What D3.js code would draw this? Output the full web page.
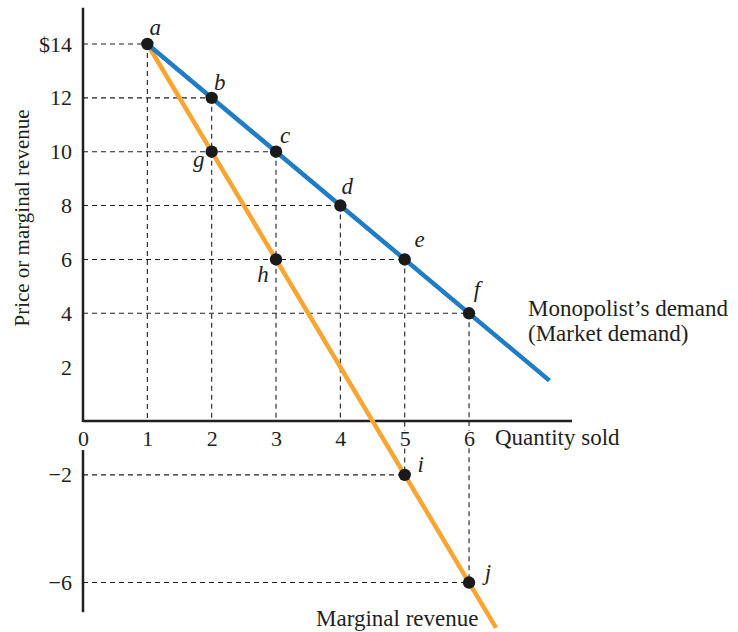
<!DOCTYPE html>
<html>
<head>
<meta charset="utf-8">
<script src="https://cdn.jsdelivr.net/npm/d3@7"></script>
<style>
body{margin:0;background:#fff;}
svg{display:block;font-family:"Liberation Serif","Times New Roman",serif;}
</style>
</head>
<body>
<svg id="chart" width="738" height="632"></svg>
<script>
// ---- data ----
const demandQ = [1, 2, 3, 4, 5, 6];
const demandP = [14, 12, 10, 8, 6, 4];
const demandLabels = ["a", "b", "c", "d", "e", "f"];
const mrQ = [2, 3, 5, 6];
const mrV = [10, 6, -2, -6];
const mrLabels = ["g", "h", "i", "j"];
const demandEnds = [[1, 14], [7.25, 1.5]];
const mrEnds = [[1, 14], [6.42, -7.68]];
const xTicks = [0, 1, 2, 3, 4, 5, 6];
const yTicksPos = [14, 12, 10, 8, 6, 4, 2];
const yTicksNeg = [-2, -6];

const svg = d3.select("#chart");
const x = d3.scaleLinear().domain([0, 7.6]).range([83, 572]);
const y = d3.scaleLinear().domain([0, 14]).range([421, 44]);
const ink = "#231f20";
const blue = "#1f7cc6";
const orange = "#f8a531";
const FS = 22;

// dashed guides
const guides = svg.append("g").attr("stroke", ink).attr("stroke-width", 1.1)
  .attr("stroke-dasharray", "5,4");
demandQ.forEach((q, i) => {
  guides.append("line").attr("x1", x(0)).attr("x2", x(q))
    .attr("y1", y(demandP[i])).attr("y2", y(demandP[i]));
});
mrQ.forEach((q, i) => {
  if (mrV[i] < 0) guides.append("line").attr("x1", x(0)).attr("x2", x(q))
    .attr("y1", y(mrV[i])).attr("y2", y(mrV[i]));
});
demandQ.forEach((q, i) => {
  const j = mrQ.indexOf(q);
  const bottom = (j >= 0 && mrV[j] < 0) ? mrV[j] : 0;
  guides.append("line").attr("x1", x(q)).attr("x2", x(q))
    .attr("y1", y(demandP[i])).attr("y2", y(bottom));
});

// axes lines
const axes = svg.append("g").attr("stroke", ink).attr("stroke-width", 2.5);
axes.append("line").attr("x1", x(0)).attr("x2", x(0)).attr("y1", y(15.35)).attr("y2", y(0) + 1);
axes.append("line").attr("x1", x(0)).attr("x2", x(7.6)).attr("y1", y(0)).attr("y2", y(0));
axes.append("line").attr("x1", x(0)).attr("x2", x(0)).attr("y1", y(-1.08)).attr("y2", y(-7.1));

// tick labels via d3 axes
const fmtY = d => d === 14 ? "$14" : (d < 0 ? "\u2212" + Math.abs(d) : String(d));
const yAxis = svg.append("g").attr("transform", `translate(${x(0) - 8},0)`)
  .call(d3.axisLeft(y).tickValues(yTicksPos.concat(yTicksNeg)).tickSize(0).tickFormat(fmtY));
yAxis.select(".domain").remove();
yAxis.selectAll("text").attr("font-size", FS).attr("fill", ink)
  .attr("font-family", "Liberation Serif, serif");

const xAxis = svg.append("g").attr("transform", `translate(0,${y(0) + 9})`)
  .call(d3.axisBottom(x).tickValues(xTicks).tickSize(0).tickFormat(d3.format("d")));
xAxis.select(".domain").remove();
xAxis.selectAll(".tick").filter(d => d === 0 || d === 5 || d === 6).insert("rect", "text")
  .attr("x", -6).attr("y", 1).attr("width", 12).attr("height", 16).attr("fill", "#fff");
xAxis.selectAll("text").attr("font-size", FS).attr("fill", ink)
  .attr("font-family", "Liberation Serif, serif")
  .attr("y", 0).attr("dy", "0.72em");

// lines
const line = d3.line().x(d => x(d[0])).y(d => y(d[1]));
svg.append("path").datum(mrEnds).attr("d", line).attr("stroke", orange)
  .attr("stroke-width", 4.5).attr("fill", "none");
svg.append("path").datum(demandEnds).attr("d", line).attr("stroke", blue)
  .attr("stroke-width", 4.5).attr("fill", "none");

// points
const dPts = demandQ.map((q, i) => ({ q, v: demandP[i], l: demandLabels[i] }));
const mPts = mrQ.map((q, i) => ({ q, v: mrV[i], l: mrLabels[i] }));
svg.append("g").selectAll("circle").data(dPts.concat(mPts)).join("circle")
  .attr("cx", d => x(d.q)).attr("cy", d => y(d.v)).attr("r", 6.2).attr("fill", "#1a1a1a");

// point labels
const dOff = { a: [8, -9], b: [8, -8], c: [9, -9], d: [7, -12], e: [15, -12], f: [8, -16] };
const mOff = { g: [-13, 15], h: [-13, 23], i: [16, -3], j: [19, -3] };
const lab = svg.append("g").attr("font-style", "italic").attr("font-size", 23).attr("fill", ink)
  .attr("text-anchor", "middle");
dPts.forEach(d => lab.append("text").attr("x", x(d.q) + dOff[d.l][0]).attr("y", y(d.v) + dOff[d.l][1]).text(d.l));
mPts.forEach(d => lab.append("text").attr("x", x(d.q) + mOff[d.l][0]).attr("y", y(d.v) + mOff[d.l][1]).text(d.l));

// titles
const t = svg.append("g").attr("font-size", 23).attr("fill", ink);
t.append("text").attr("x", 495).attr("y", 445).text("Quantity sold");
t.append("text").attr("x", 528).attr("y", 316).text("Monopolist\u2019s demand");
t.append("text").attr("x", 528).attr("y", 341).text("(Market demand)");
t.append("text").attr("x", 316).attr("y", 626).text("Marginal revenue");
t.append("text").attr("transform", "translate(29,218) rotate(-90)").attr("text-anchor", "middle")
  .attr("font-size", 21).text("Price or marginal revenue");
</script>
</body>
</html>
